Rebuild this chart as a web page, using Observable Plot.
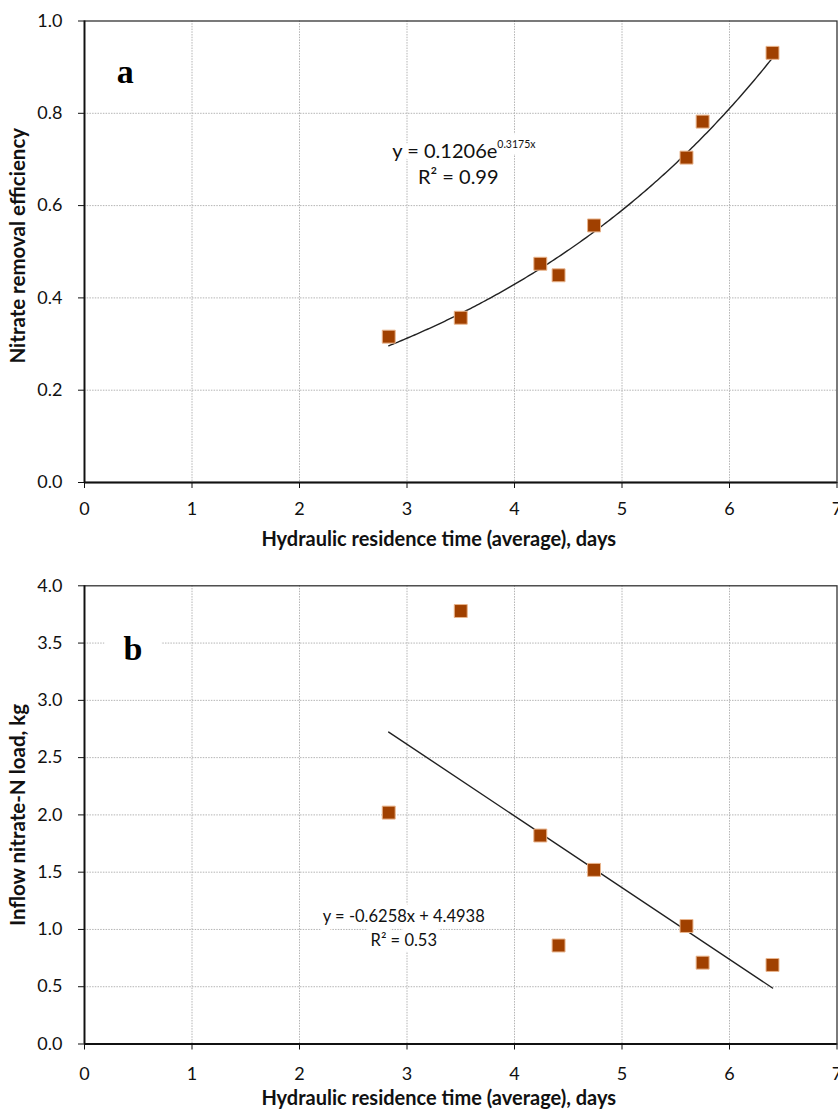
<!DOCTYPE html>
<html><head><meta charset="utf-8">
<script src="https://cdn.jsdelivr.net/npm/d3@7"></script>
<script src="https://cdn.jsdelivr.net/npm/@observablehq/plot@0.6"></script>
<style>
body{margin:0;background:#fff}
#chart svg{display:block}
</style>
</head><body><div id="chart"></div>
<script>
// ---- data ----
const hrtDays     = [2.83, 3.50, 4.24, 4.41, 4.74, 5.60, 5.75, 6.40];
const removalEff  = [0.316, 0.357, 0.474, 0.449, 0.557, 0.704, 0.782, 0.931];
const inflowLoad  = [2.02, 3.78, 1.82, 0.86, 1.52, 1.03, 0.71, 0.69];
const xTicks      = [0, 1, 2, 3, 4, 5, 6, 7];
const yTicksA     = [0, 0.2, 0.4, 0.6, 0.8, 1.0];
const yTicksB     = [0, 0.5, 1.0, 1.5, 2.0, 2.5, 3.0, 3.5, 4.0];
const expFitCoef  = [0.1206, 0.3175];    // y = a·e^(b·x)
const linFitCoef  = [-0.6258, 4.4938];   // y = m·x + c
const fitSpan     = [2.83, 6.40];
const xTitle      = "Hydraulic residence time (average), days";
const yTitleA     = "Nitrate removal efficiency";
const yTitleB     = "Inflow nitrate-N load, kg";

// ---- styles ----
const FONT = "Lato, 'Open Sans', sans-serif";
const MARK_FILL = "#a04000", MARK_STROKE = "#e9b48c";
const GRID = {stroke: "#b4b4b4", strokeOpacity: 1, strokeDasharray: "1.5,1.2", strokeWidth: 1};

const ptsA = hrtDays.map((x, i) => ({x, y: removalEff[i]}));
const ptsB = hrtDays.map((x, i) => ({x, y: inflowLoad[i]}));
const step = 0.02;
const fitXs = d3.range(fitSpan[0], fitSpan[1] + step / 2, step);
const curveA = fitXs.map(x => ({x, y: expFitCoef[0] * Math.exp(expFitCoef[1] * x)}));
const lineB = fitSpan.map(x => ({x, y: linFitCoef[0] * x + linFitCoef[1]}));

// text with a white backing: all halo passes first, then the ink passes
function annotMarks(list) {
  const halos = [], inks = [];
  for (const [d, opt] of list) {
    halos.push(Plot.text(d, {...opt, fill: "white", stroke: "white", strokeWidth: 12, strokeLinejoin: "round"}));
    inks.push(Plot.text(d, {...opt, fill: "#111", stroke: null}));
  }
  return [...halos, ...inks];
}

function buildPanel(o) {
  const annot = annotMarks(o.annot);
  return Plot.plot({
    width: 838, height: 557,
    marginLeft: 84, marginRight: 1.5,
    marginTop: o.marginTop, marginBottom: o.marginBottom,
    style: {fontFamily: FONT, fontSize: "18px", color: "#111", background: "#fff", overflow: "visible"},
    x: {domain: [0, 7]},
    y: {domain: o.yDomain},
    marks: [
      Plot.gridX({ticks: xTicks.slice(1, -1), ...GRID}),
      Plot.gridY({ticks: o.yTicks.slice(1, -1), ...GRID}),
      ...annot,
      Plot.dot([o.letter], {x: "x", y: "y", symbol: "square", r: 32, fill: "white", stroke: null}),
      Plot.text([o.letter], {x: "x", y: "y", text: "t", fontFamily: "'Liberation Serif', 'Times New Roman', serif",
        fontWeight: "bold", fontSize: 34, fill: "#000"}),
      Plot.frame({stroke: "#333", strokeWidth: 1.3}),
      Plot.ruleX([0], {stroke: "#111", strokeWidth: 1.8}),
      Plot.ruleY([o.yDomain[0]], {stroke: "#111", strokeWidth: 1.8}),
      Plot.axisX({ticks: xTicks, tickSize: 6, tickPadding: o.xPad, label: null, fontSize: 18, tickFormat: d3.format("d")}),
      Plot.axisY({ticks: o.yTicks, tickSize: 6, tickPadding: 16, label: null, fontSize: 18, tickFormat: d3.format(".1f")}),
      o.fit,
      Plot.dot(o.pts, {x: "x", y: "y", symbol: "square", r: 7.3, fill: MARK_FILL, stroke: MARK_STROKE, strokeWidth: 1}),
      Plot.text([xTitle], {frameAnchor: "bottom", lineAnchor: "middle", textAnchor: "middle", text: d => d,
        dx: -22, dy: o.xTitleDy, fontWeight: "bold", fontSize: 20, fill: "#111"}),
      Plot.text([o.yTitle], {frameAnchor: "left", lineAnchor: "middle", textAnchor: "middle", text: d => d,
        rotate: -90, dx: -66, dy: o.yTitleDy, fontWeight: "bold", fontSize: 20.5, fill: "#111"})
    ]
  });
}

const panelA = buildPanel({
  marginTop: 20.5, marginBottom: 75,
  yDomain: [0, 1], yTicks: yTicksA, pts: ptsA,
  xPad: 14, xTitleDy: 57, yTitle: yTitleA, yTitleDy: -6,
  letter: {x: 0.38, y: 0.89, t: "a"},
  fit: Plot.line(curveA, {x: "x", y: "y", stroke: "#222", strokeWidth: 1.4}),
  annot: [
    [[{x: 3.84, y: 0.718, t: "y = 0.1206e"}], {x: "x", y: "y", text: "t", textAnchor: "end", fontSize: 20}],
    [[{x: 3.84, y: 0.718, t: "0.3175x"}], {x: "x", y: "y", text: "t", textAnchor: "start", fontSize: 10.5, dy: -7}],
    [[{x: 3.477, y: 0.66, t: "R² = 0.99"}], {x: "x", y: "y", text: "t", fontSize: 20}]
  ]
});

const panelB = buildPanel({
  marginTop: 28.3, marginBottom: 70.5,
  yDomain: [0, 4], yTicks: yTicksB, pts: ptsB,
  xPad: 17, xTitleDy: 55, yTitle: yTitleB, yTitleDy: 0,
  letter: {x: 0.45, y: 3.445, t: "b"},
  fit: Plot.line(lineB, {x: "x", y: "y", stroke: "#222", strokeWidth: 1.4}),
  annot: [
    [[{x: 2.97, y: 1.028, t: "y = -0.6258x + 4.4938\nR² = 0.53"}], {x: "x", y: "y", text: "t", fontSize: 16.5, lineHeight: 1.45}]
  ]
});

document.getElementById("chart").append(panelA, panelB);
</script>
</body></html>
